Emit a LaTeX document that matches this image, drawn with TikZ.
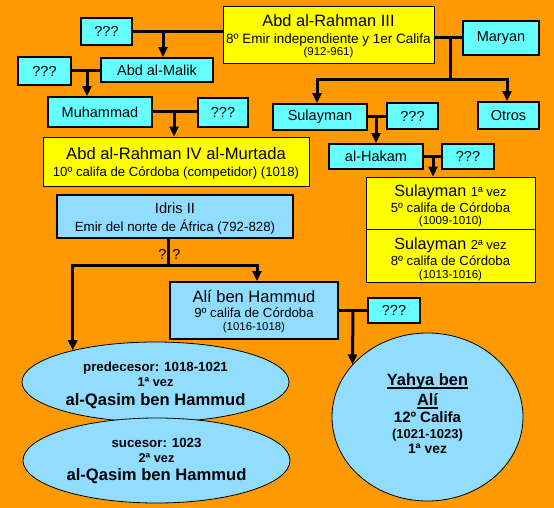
\documentclass[tikz,border=0pt]{standalone}
\usepackage{fontspec}
\setmainfont{Liberation Sans}
\usetikzlibrary{arrows.meta,shapes.geometric}
\definecolor{bgor}{RGB}{255,153,0}
\definecolor{cyanb}{RGB}{102,255,255}
\definecolor{skyb}{RGB}{145,221,255}
\definecolor{yel}{RGB}{255,255,0}
\newcommand\fz[1]{\fontsize{#1}{1}\selectfont}
\newcommand\lsx{\fontsize{10}{0.1}\selectfont\lineskiplimit=-1000pt\relax}
\newcommand\sr[2]{\rule[-#2pt]{0pt}{\dimexpr #1pt+#2pt\relax}}
\newcommand\myul[1]{\setbox0\hbox{#1}\rlap{\rule[-4.1pt]{\wd0}{2.1pt}}\box0}
\begin{document}
\begin{tikzpicture}[x=1pt,y=-1pt,
  cbox/.style={draw,line width=1.8pt,fill=cyanb,inner sep=0pt,font=\fontsize{14.5}{17}\selectfont},
  ybox/.style={draw,line width=0.8pt,fill=yel,inner sep=0pt,align=center,font=\lsx},
  bbox/.style={draw,line width=1.8pt,fill=skyb,inner sep=0pt,align=center,font=\lsx},
  oval/.style={ellipse,draw,line width=0.8pt,fill=skyb,inner sep=0pt,align=center,font={\bfseries\lsx}},
  conn/.style={line width=3pt},
  arr/.style={line width=3pt,-{Triangle[length=10pt,width=9pt]}},
  qlab/.style={inner sep=0pt,font=\fontsize{14.5}{17}\selectfont}]
\useasboundingbox (0,0) rectangle (554,508);
\fill[bgor] (0,0) rectangle (554,508);

% nodes
\node[cbox,minimum width=51pt,minimum height=27pt] (q1) at (106.5,31.5) {???};
\node[ybox,minimum width=211pt,minimum height=57pt] (abd3) at (328.5,34.5)
  {\sr{16.5}{0}\fz{16.4}Abd al-Rahman III\\[17.1pt]\fz{13.5}8º Emir independiente y 1er Califa\\[12.3pt]\fz{11.5}(912-961)\sr{0}{3.3}};
\node[cbox,minimum width=76pt,minimum height=34pt] (maryan) at (501,38) {Maryan};
\node[cbox,minimum width=112pt,minimum height=24pt] (malik) at (157,70) {Abd al-Malik};
\node[cbox,minimum width=53pt,minimum height=28pt] (q2) at (44.5,71) {???};
\node[cbox,minimum width=104pt,minimum height=30pt] (muhammad) at (100,112) {Muhammad};
\node[cbox,minimum width=50pt,minimum height=29pt] (q3) at (223,112.5) {???};
\node[cbox,minimum width=94pt,minimum height=26pt] (sulayman) at (320,117) {Sulayman};
\node[cbox,minimum width=51pt,minimum height=26pt] (q4) at (412.5,116) {???};
\node[cbox,minimum width=61pt,minimum height=27pt] (otros) at (508.5,115.5) {Otros};
\node[ybox,minimum width=266pt,minimum height=49pt] (abd4) at (176,161.5)
  {\sr{16}{0}\fz{16.6}Abd al-Rahman IV al-Murtada\\[16.9pt]\fz{13.2}10º califa de Córdoba (competidor) (1018)\sr{0}{3.1}};
\node[cbox,minimum width=94pt,minimum height=25pt] (hakam) at (376,156.5) {al-Hakam};
\node[cbox,minimum width=52pt,minimum height=25pt] (q5) at (468,156.5) {???};
\node[ybox,minimum width=169pt,minimum height=52pt] (sul1) at (450.5,203)
  {\sr{18}{0}\fz{16.2}Sulayman {\fz{13}1ª vez}\\[16.1pt]\fz{13.2}5º califa de Córdoba\\[12.4pt]\fz{11.6}(1009-1010)\sr{0}{2.9}};
\node[ybox,minimum width=169pt,minimum height=53pt] (sul2) at (450.5,255.5)
  {\sr{20}{0}\fz{16.2}Sulayman {\fz{13}2ª vez}\\[16.1pt]\fz{13.2}8º califa de Córdoba\\[12.4pt]\fz{11.6}(1013-1016)\sr{0}{2.9}};
\node[bbox,minimum width=236pt,minimum height=43pt] (idris) at (175,216.5)
  {\sr{15.5}{0}\fz{14.7}Idris II\\[17.5pt]\fz{13.3}Emir del norte de África (792-828)\sr{0}{3.2}};
\node[bbox,minimum width=168pt,minimum height=57pt] (ali) at (254,310.5)
  {\sr{16}{0}\fz{16.5}Alí ben Hammud\\[15pt]\fz{13.2}9º califa de Córdoba\\[13.4pt]\fz{11.4}(1016-1018)\sr{0}{3.8}};
\node[cbox,minimum width=52pt,minimum height=25pt] (q6) at (394,310.5) {???};
\node[oval,minimum width=267pt,minimum height=80pt] (el1) at (155.5,382)
  {\sr{16.5}{0}\fz{13.3}predecesor: 1018-1021\\[14.9pt]\fz{12.7}1ª vez\\[18.2pt]\fz{16.6}al-Qasim ben Hammud\sr{0}{2.6}};
\node[oval,minimum width=267pt,minimum height=85pt] (el2) at (156.5,460.5)
  {\sr{11}{0}\fz{13.3}sucesor: 1023\\[14.9pt]\fz{12.7}2ª vez\\[18.2pt]\fz{16.6}al-Qasim ben Hammud\sr{0}{4.1}};
\node[oval,minimum width=191pt,minimum height=168pt] (yahya) at (427.5,417)
  {\sr{13}{0}\fz{16.4}\myul{Yahya ben}\\[20pt]\fz{16.4}\myul{Alí}\\[16.6pt]\fz{15}12º Califa\\[16.6pt]\fz{13}(1021-1023)\\[14.7pt]\fz{13.8}1ª vez\sr{0}{8.3}};
\node[qlab] (qa) at (162.5,254.5) {?};
\node[qlab] (qb) at (176.5,254.5) {?};

% connectors
\coordinate (j1) at (q1.east -| 163,0);
\draw[conn] (q1.east) -- (q1.east -| abd3.west);
\draw[arr] (j1) -- (j1 |- malik.north);

\coordinate (j2) at (q2.east -| 87,0);
\draw[conn] (q2.east) -- (q2.east -| malik.west);
\draw[arr] (j2) -- (j2 |- muhammad.north);

\coordinate (j3) at (muhammad.east -| 174,0);
\draw[conn] (muhammad.east) -- (muhammad.east -| q3.west);
\draw[arr] (j3) -- (j3 |- abd4.north);

\coordinate (j4) at (450,80);
\draw[conn] (maryan.west -| abd3.east) -- (maryan.west);
\draw[conn] (j4 |- maryan.west) -- (j4);
\draw[arr] (j4) -| ([xshift=-3pt]sulayman.north);
\draw[arr] (j4) -| ([xshift=-1.5pt]otros.north);

\coordinate (j5) at (sulayman.east -| 376,0);
\draw[conn] (sulayman.east) -- (sulayman.east -| q4.west);
\draw[arr] (j5) -- (j5 |- hakam.north);

\coordinate (j6) at (hakam.east -| 433,0);
\draw[conn] (hakam.east) -- (hakam.east -| q5.west);
\draw[arr] (j6) -- (j6 |- sul1.north);

\coordinate (j7) at (168,265);
\draw[conn] (idris.south -| j7) -- (j7);
\draw[arr] (j7) -| (el1.159);
\draw[arr] (j7) -| ([xshift=3pt]ali.north);

\coordinate (j8) at (ali.east -| 353,0);
\draw[conn] (ali.east) -- (ali.east -| q6.west);
\draw[arr] (j8) -- (yahya.145);
\end{tikzpicture}
\end{document}
